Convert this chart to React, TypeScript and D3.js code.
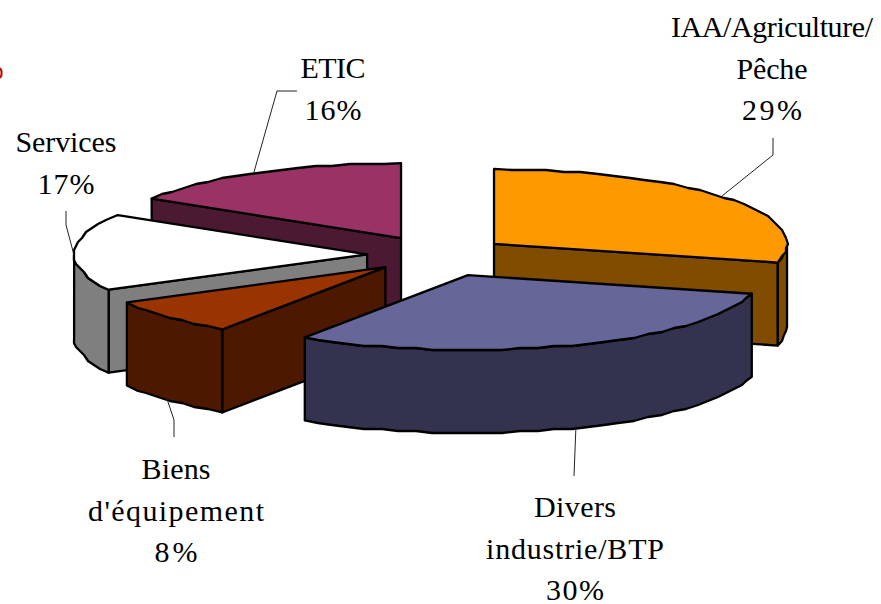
import React from 'react';
import * as d3 from 'd3';

// shares, slightly finer than the rounded labels so the cuts line up
const categories = ['IAA/Agriculture/Pêche', 'Divers industrie/BTP', "Biens d'équipement", 'Services', 'ETIC'];
const shares = [29, 30.4, 7.8, 16.6, 16.2];
const percentLabels = ['29%', '30%', '8%', '17%', '16%'];
const topColors = ['#FF9900', '#666699', '#993300', '#FFFFFF', '#993366'];
const wallColors = ['#7F4C00', '#333350', '#4C1900', '#7F7F7F', '#4C1933'];

const labelLines = [
  ['IAA/Agriculture/', 'Pêche'],
  ['Divers', 'industrie/BTP'],
  ['Biens', "d'équipement"],
  ['Services'],
  ['ETIC'],
];
// measured row widths, the original font runs wider than Liberation Serif
const labelWidths = [
  [202, 71, 60],
  [82, 178, 58],
  [69, 176, 43],
  [101, 57],
  [65, 57],
];
const labelAnchors: [number, number][] = [
  [772, 37],
  [575, 517],
  [176, 479],
  [66, 152],
  [333, 78],
];
const leaders: [number, number][][] = [
  [[722, 196], [773, 155], [773, 138]],
  [[576, 425], [574, 476]],
  [[167, 399], [174, 420], [174, 437]],
  [[74, 255], [66, 225], [66, 211]],
  [[254, 172], [277, 91], [297, 91]],
];
const explodes = [0.242, 0.287, 0.242, 0.242, 0.259];

const width = 881;
const height = 604;
const centerX = 438;
const centerY = 255;
const radiusX = 293;
const radiusY = 75;
const depth = 83;
const lineStep = 41.5;
const arcStep = 0.06;
const snapSize = 2;

const xScale = d3.scaleLinear().domain([-1, 1]).range([-radiusX, radiusX]);
const yScale = d3.scaleLinear().domain([-1, 1]).range([-radiusY, radiusY]);
const line = d3.line();

const pie = d3.pie<number>().sort(null).value(d => d);

// the source was a coarse metafile, hence the snapped, slightly bumpy rims
const snap = (v: number) => Math.round(v / snapSize) * snapSize;

type Apex = { x: number; y: number };

const rim = (apex: Apex, a: number, drop = 0): [number, number] => {
  const [ux, uy] = d3.pointRadial(a, 1);
  return [apex.x + xScale(ux), apex.y + yScale(uy) + drop];
};

const arcPoints = (apex: Apex, a0: number, a1: number, drop = 0): [number, number][] => {
  const inner = d3.range(a0 + arcStep, a1 - arcStep / 2, arcStep);
  return [
    rim(apex, a0, drop),
    ...inner.map(a => {
      const [x, y] = rim(apex, a);
      return [snap(x), snap(y) + drop] as [number, number];
    }),
    rim(apex, a1, drop),
  ];
};

const slices = pie(shares)
  .map((arc, i) => {
    const [ex, ey] = d3.pointRadial((arc.startAngle + arc.endAngle) / 2, explodes[i]);
    const apex = { x: centerX + xScale(ex), y: centerY + yScale(ey) };
    return { i, a0: arc.startAngle, a1: arc.endAngle, apex };
  })
  .sort((p, q) => d3.ascending(p.apex.y, q.apex.y));

const strokeProps = { stroke: '#000', strokeWidth: 2.3, strokeLinejoin: 'round' as const };

function Slice({ slice }: { slice: (typeof slices)[number] }) {
  const { i, a0, a1, apex } = slice;
  const top = arcPoints(apex, a0, a1);
  const walls: [number, number][][] = [];

  // cut faces, only when they look towards the viewer
  const cutFace = (a: number): [number, number][] => {
    const r = rim(apex, a);
    return [[apex.x, apex.y], r, [r[0], r[1] + depth], [apex.x, apex.y + depth]];
  };
  if (Math.cos(a0 - Math.PI / 2) < 0) walls.push(cutFace(a0));
  if (Math.cos(a1 + Math.PI / 2) < 0) walls.push(cutFace(a1));

  // outer cylinder wall on the front half
  const w0 = Math.max(a0, Math.PI / 2);
  const w1 = Math.min(a1, (3 * Math.PI) / 2);
  if (w1 > w0) {
    walls.push([...arcPoints(apex, w0, w1), ...arcPoints(apex, w0, w1, depth).reverse()]);
  }

  return (
    <g>
      {walls.map((w, k) => (
        <path key={k} d={`${line(w)}Z`} fill={wallColors[i]} {...strokeProps} />
      ))}
      <path d={`${line([[apex.x, apex.y], ...top])}Z`} fill={topColors[i]} {...strokeProps} />
    </g>
  );
}

export default function App() {
  return (
    <svg
      width={width}
      height={height}
      viewBox={`0 0 ${width} ${height}`}
      style={{ position: 'absolute', left: 0, top: 0, display: 'block', background: '#fff' }}
      fontFamily='"Liberation Serif", serif'
      fontSize={30}
    >
      {/* sliver of red text cropped by the left edge of the scan */}
      <path
        d={line([[0, 68], [1.5, 71], [1.5, 75], [0, 78]]) as string}
        fill="none"
        stroke="#C00000"
        strokeWidth={2}
      />
      {slices.map(s => (
        <Slice key={s.i} slice={s} />
      ))}
      {leaders.map((pts, i) => (
        <path key={categories[i]} d={line(pts) as string} fill="none" stroke="#222" strokeWidth={1} />
      ))}
      {categories.map((c, i) => {
        const [x, y] = labelAnchors[i];
        const rows = [...labelLines[i], percentLabels[i]];
        return (
          <g key={c}>
            {rows.map((row, r) => (
              <text
                key={row}
                x={x}
                y={y + r * lineStep}
                textAnchor="middle"
                fill="#000"
                textLength={labelWidths[i][r]}
                lengthAdjust="spacing"
              >
                {row}
              </text>
            ))}
          </g>
        );
      })}
    </svg>
  );
}
